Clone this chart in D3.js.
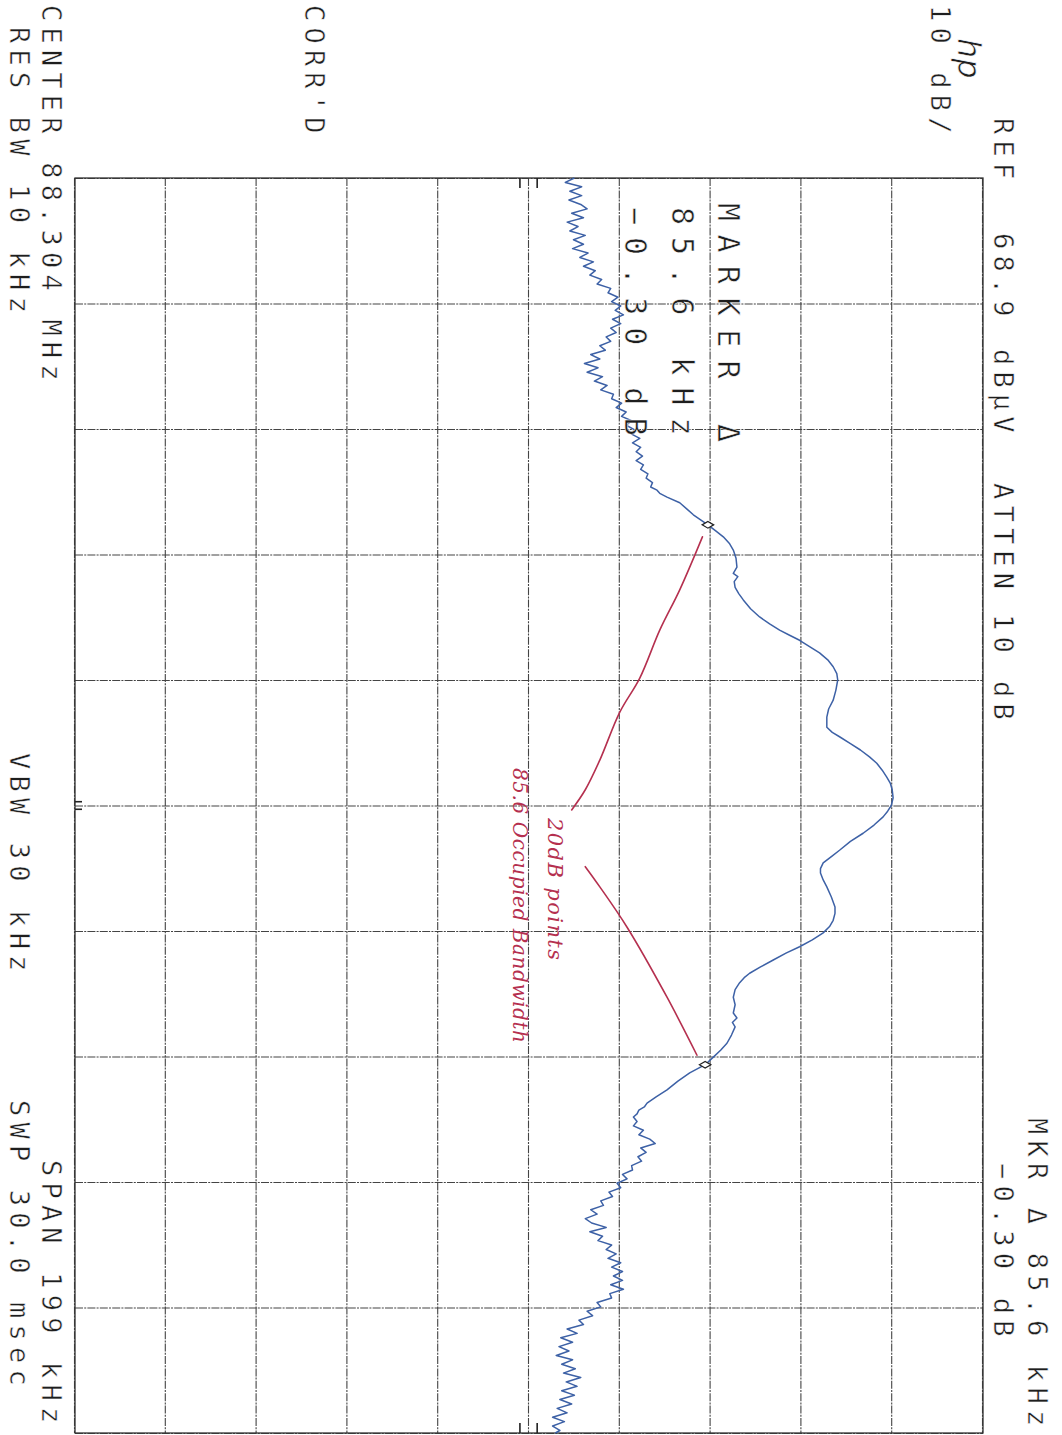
<!DOCTYPE html>
<html><head><meta charset="utf-8">
<script src="https://cdn.jsdelivr.net/npm/d3@7"></script>
<style>
html,body{margin:0;padding:0;background:#fff;}
svg{display:block;}
text{white-space:pre;}
</style></head>
<body><svg id="plot" width="1062" height="1435"></svg>
<script>
// Spectrum analyzer plot, 88.304 MHz centre, 199 kHz span, 10 dB/div
const refLevel = 68.9;          // dBµV at the top graticule line
const dbPerDiv = 10;
const spanKHz = 199;

const freqTicks  = [-99.5, -79.6, -59.7, -39.8, -19.9, 0, 19.9, 39.8, 59.7, 79.6, 99.5];
const levelTicks = [-31.1, -21.1, -11.1, -1.1, 8.9, 18.9, 28.9, 38.9, 48.9, 58.9, 68.9];

// Trace: [offset from centre in kHz, level in dBµV]
const trace = [
  [-99.5,23.9],[-98.8,22.9],[-98.1,24.7],[-97.4,23.4],[-96.7,24.7],[-96.0,23.3],[-95.3,24.6],[-94.6,25.3],
  [-93.9,23.6],[-93.2,24.9],[-92.5,23.1],[-91.8,24.3],[-91.1,23.4],[-90.4,25.1],[-89.7,23.8],[-89.0,24.9],
  [-88.3,23.7],[-87.6,25.4],[-86.9,24.5],[-86.2,26.0],[-85.5,24.9],[-84.8,26.2],[-84.1,25.6],[-83.4,26.9],
  [-82.7,26.4],[-82.0,27.9],[-81.3,27.6],[-80.6,28.7],[-79.9,28.0],[-79.2,29.0],[-78.5,28.4],[-77.8,29.3],
  [-77.1,28.1],[-76.4,29.0],[-75.7,27.9],[-75.0,28.5],[-74.3,27.4],[-73.6,27.9],[-72.9,26.7],[-72.2,27.3],
  [-71.5,25.7],[-70.8,26.7],[-70.1,25.0],[-69.4,26.5],[-68.7,25.3],[-68.0,27.0],[-67.3,26.1],[-66.6,27.5],
  [-65.9,26.8],[-65.2,28.2],[-64.5,28.0],[-63.8,29.1],[-63.1,28.5],[-62.4,29.6],[-61.7,29.1],[-61.0,30.2],
  [-60.3,29.6],[-59.6,30.5],[-58.9,30.2],[-58.2,31.1],[-57.5,30.3],[-56.8,31.2],[-56.1,30.7],[-55.4,31.4],
  [-54.7,30.7],[-54.0,31.5],[-53.3,31.2],[-52.6,32.0],[-51.9,31.8],[-51.2,32.5],[-50.5,32.3],
  [-50.0,33.0],[-49.5,33.3],[-48.9,34.1],[-48.0,35.5],[-47.0,36.3],[-46.1,37.0],[-45.3,37.8],[-44.5,38.6],[-43.5,39.5],
  [-42.6,40.3],[-41.5,41.0],[-40.5,41.4],[-39.2,41.7],[-37.8,41.8],[-36.8,41.4],[-36.3,41.9],[-35.5,41.5],
  [-34.6,41.6],[-33.6,42.0],[-32.6,42.5],[-31.2,43.3],[-29.9,44.3],[-28.8,45.4],[-27.8,46.5],[-27.0,47.6],
  [-26.2,48.7],[-25.2,49.8],[-24.2,50.9],[-23.1,51.8],[-22.0,52.4],[-20.9,52.8],[-19.9,52.9],[-18.3,52.7],
  [-16.7,52.4],[-15.3,51.9],[-14.0,51.7],[-12.4,51.7],[-11.6,52.3],[-10.9,53.1],[-9.8,54.3],[-8.8,55.4],
  [-7.7,56.4],[-6.7,57.2],[-5.6,57.8],[-4.5,58.3],[-3.5,58.7],[-2.5,58.9],[-1.2,59.0],[0.0,58.8],
  [0.9,58.4],[1.8,57.9],[3.1,56.9],[4.4,55.7],[5.7,54.3],[7.1,53.1],[8.1,52.2],[9.1,51.3],
  [10.0,51.0],[10.7,51.0],[11.8,51.3],[12.9,51.7],[14.5,52.2],[16.1,52.6],[17.1,52.6],[18.2,52.4],
  [19.2,52.0],[20.2,51.3],[21.3,50.1],[22.4,48.7],[23.4,47.2],[24.5,45.8],[25.6,44.4],[26.6,43.2],
  [27.3,42.6],[28.1,42.1],[29.2,41.6],[30.4,41.4],[31.6,41.6],[32.9,41.4],[33.7,41.8],[34.4,41.3],
  [35.1,41.6],[36.4,41.2],[37.7,40.7],[38.8,40.0],[39.9,39.2],[41.1,38.3],[42.4,36.6],[43.7,35.3],
  [45.1,34.1],[46.2,32.9],[47.2,31.9],[47.8,31.6],[48.3,31.0],[48.9,30.8],[49.4,30.4],
  [50.1,30.8],[50.8,30.4],[51.5,31.5],[52.2,31.0],[52.9,32.2],[53.6,32.8],[54.3,31.2],[55.0,31.8],
  [55.7,30.9],[56.4,31.3],[57.1,30.2],[57.8,30.3],[58.5,29.2],[59.2,29.7],[59.9,28.6],[60.6,29.0],
  [61.3,27.7],[62.0,28.1],[62.7,26.8],[63.4,27.1],[64.1,25.7],[64.8,26.4],[65.5,25.1],[66.2,25.8],
  [66.9,27.4],[67.6,25.6],[68.3,27.0],[69.0,26.5],[69.7,28.0],[70.4,27.4],[71.1,28.5],[71.8,27.6],
  [72.5,29.0],[73.2,28.0],[73.9,29.2],[74.6,28.2],[75.3,29.2],[76.0,27.9],[76.7,29.3],[77.4,27.8],
  [78.1,28.0],[78.8,26.4],[79.5,26.8],[80.2,25.3],[80.9,25.9],[81.6,24.4],[82.3,24.9],[83.0,23.1],
  [83.7,24.2],[84.4,22.4],[85.1,23.7],[85.8,22.2],[86.5,23.3],[87.2,21.9],[87.9,23.7],[88.6,22.5],
  [89.3,24.0],[90.0,22.7],[90.7,24.6],[91.4,23.0],[92.1,24.2],[92.8,22.5],[93.5,23.9],[94.2,22.3],
  [94.9,23.6],[95.6,22.0],[96.3,23.1],[97.0,21.5],[97.7,22.8],[98.4,21.5],[99.1,22.3],[99.5,21.8]
];

// Delta marker: reference point and its offset
const markerRef   = [-44.5, 38.6];   // kHz, dBµV
const markerDelta = [85.6, -0.30];   // kHz, dB

// Hand-drawn annotation strokes, in kHz / dBµV
const noteStrokeA = [[-42.6,38.0],[-34.2,35.5],[-27.8,33.3],[-20.2,31.1],[-14.8,28.9],[-7.2,26.7],[-2.5,25.1],[0.7,23.6]];
const noteStrokeB = [[9.7,25.1],[12.9,26.7],[19.3,29.7],[30.4,34.1],[39.6,37.4]];
const noteLines = ["20dB points", "85.6 Occupied Bandwidth"];

// Header words of the plotter annotation
const refWords = ["REF", "68.9", "dBµV", "ATTEN", "10", "dB"];

// Small reference ticks on the graticule edges
const edgeTickLevels = [17.9, 19.8];
const centreTickFreqs = [-0.6, 0.6];

const svg = d3.select("#plot");
// landscape page (1435 x 1062), turned a quarter clockwise onto the portrait sheet
const page = svg.append("g").attr("transform", `translate(${1062},0) rotate(90)`);

const x = d3.scaleLinear().domain([freqTicks[0], freqTicks[freqTicks.length - 1]]).range([178, 1433]);
const y = d3.scaleLinear().domain([refLevel - dbPerDiv * 10, refLevel]).range([987, 79]);

// Graticule
const gridStyle = g => g.selectAll(".tick line")
  .attr("stroke", "#444").attr("stroke-width", 1.1).attr("stroke-dasharray", "8,1.2,2,1.2");
const grid = page.append("g");
grid.append("g").attr("transform", `translate(0,${y.range()[0]})`)
  .call(d3.axisBottom(x).tickValues(freqTicks).tickSize(-(y.range()[0] - y.range()[1])).tickFormat(""))
  .call(g => g.select(".domain").remove())
  .call(gridStyle);
grid.append("g").attr("transform", `translate(${x.range()[0]},0)`)
  .call(d3.axisLeft(y).tickValues(levelTicks).tickSize(-(x.range()[1] - x.range()[0])).tickFormat(""))
  .call(g => g.select(".domain").remove())
  .call(gridStyle);
grid.append("rect")
  .attr("x", x.range()[0]).attr("y", y.range()[1])
  .attr("width", x.range()[1] - x.range()[0]).attr("height", y.range()[0] - y.range()[1])
  .attr("fill", "none").attr("stroke", "#333").attr("stroke-width", 1.3);

// Edge ticks
const ticks = page.append("g").attr("stroke", "#222").attr("stroke-width", 1.6);
edgeTickLevels.forEach(l => {
  ticks.append("line").attr("x1", x.range()[0]).attr("x2", x.range()[0] + 10).attr("y1", y(l)).attr("y2", y(l));
  ticks.append("line").attr("x1", x.range()[1]).attr("x2", x.range()[1] - 10).attr("y1", y(l)).attr("y2", y(l));
});
centreTickFreqs.forEach(f => {
  ticks.append("line").attr("x1", x(f)).attr("x2", x(f)).attr("y1", y.range()[0]).attr("y2", y.range()[0] - 7);
});

// Trace
page.append("path").datum(trace)
  .attr("fill", "none").attr("stroke", "#3d61a6").attr("stroke-width", 1.5).attr("stroke-linejoin", "round")
  .attr("d", d3.line().x(d => x(d[0])).y(d => y(d[1])));

// Markers
const markerB = [markerRef[0] + markerDelta[0], markerRef[1] + markerDelta[1]];
page.append("g").selectAll("path").data([markerRef, markerB]).join("path")
  .attr("transform", d => `translate(${x(d[0])},${y(d[1])})`)
  .attr("d", d3.symbol(d3.symbolDiamond, 38))
  .attr("fill", "#fff").attr("stroke", "#222").attr("stroke-width", 1.2);

// Annotation strokes
const noteLine = d3.line().x(d => x(d[0])).y(d => y(d[1])).curve(d3.curveCatmullRom);
page.append("g").selectAll("path").data([noteStrokeA, noteStrokeB]).join("path")
  .attr("d", noteLine).attr("fill", "none").attr("stroke", "#b5304f").attr("stroke-width", 1.6).attr("stroke-linecap", "round");

const hand = page.append("g").attr("fill", "#b5304f").attr("font-family", "DejaVu Serif").attr("font-style", "italic");
hand.append("text").attr("x", 818).attr("y", 514).attr("font-size", 21).attr("textLength", 142).text(noteLines[0]);
hand.append("text").attr("x", 768).attr("y", 549).attr("font-size", 20).attr("textLength", 275).text(noteLines[1]);

// Plotter annotations (thin pen: a white hairline trims the glyph edges)
const mono = page.append("g").attr("font-family", "DejaVu Sans Mono").attr("fill", "#1e1e1e")
  .attr("stroke", "#fff").attr("stroke-width", 0.5);
const hdr = (s, u, v) => mono.append("text").attr("x", u).attr("y", v).attr("font-size", 27).attr("letter-spacing", 6.2).text(s);
const fmtDelta = d3.format(".2f");

const refStarts = [118, 233, 349, 483, 614, 681];
refWords.forEach((w, i) => hdr(w, refStarts[i], 68));
hdr(`MKR Δ ${markerDelta[0].toFixed(1)} kHz`, 1118, 34);
hdr(`${fmtDelta(markerDelta[1])} dB`, 1163, 68);
hdr("10 dB/", 5, 131);
hdr("CORR'D", 5, 757);
hdr("CENTER 88.304 MHz", 5, 1020);
hdr("RES BW 10 kHz", 27, 1052);
hdr("VBW 30 kHz", 753, 1052);
hdr(`SPAN ${spanKHz} kHz`, 1160, 1020);
hdr("SWP 30.0 msec", 1100, 1052);

const big = (s, u, v, ls) => mono.append("text").attr("x", u).attr("y", v).attr("font-size", 30).attr("letter-spacing", ls).text(s);
big("MARKER Δ", 203, 344, 13.5);
big(`${markerDelta[0].toFixed(1)} kHz`, 207, 390, 12);
big(`${fmtDelta(markerDelta[1])} dB`, 207, 437, 12);

// Maker's logo
page.append("text").attr("x", 38).attr("y", 104).attr("font-family", "DejaVu Sans").attr("font-style", "italic")
  .attr("font-size", 32).attr("fill", "#1e1e1e").attr("stroke", "#fff").attr("stroke-width", 0.6).text("hp");
</script>
</body></html>
